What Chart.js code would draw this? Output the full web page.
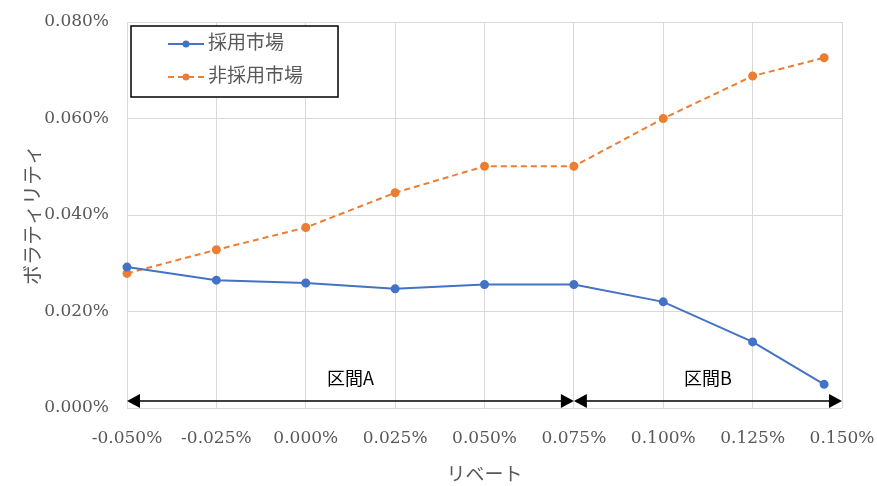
<!DOCTYPE html>
<html>
<head>
<meta charset="utf-8">
<script src="https://cdn.jsdelivr.net/npm/chart.js@4.4.1/dist/chart.umd.min.js"></script>
<style>
  html, body { margin: 0; padding: 0; background: #fff; }
  #wrap { width: 877px; height: 486px; }
</style>
</head>
<body>
<div id="wrap"><canvas id="volChart" width="877" height="486"></canvas></div>
<script>
// --- Data (rebate %, volatility %) ---
const rebates = [-0.05, -0.025, 0, 0.025, 0.05, 0.075, 0.1, 0.125, 0.145];
const adoptedVol = [0.0292, 0.0265, 0.0259, 0.0247, 0.0256, 0.0256, 0.0220, 0.0137, 0.0049];
const nonAdoptedVol = [0.0279, 0.0328, 0.0374, 0.0446, 0.0501, 0.0501, 0.0600, 0.0688, 0.0726];
const seriesNames = ["採用市場", "非採用市場"];
const xTicks = [-0.05, -0.025, 0, 0.025, 0.05, 0.075, 0.1, 0.125, 0.15];
const yTicks = [0, 0.02, 0.04, 0.06, 0.08];
const rangeNames = ["区間A", "区間B"];
const rangeBounds = [[-0.05, 0.075], [0.075, 0.15]];

const BLUE = "#4472C4";
const ORANGE = "#ED7D31";
const GREY = "#595959";
const SERIF = "'DejaVu Serif', 'Noto Sans CJK JP', serif";
const SANS = "'Noto Sans CJK JP', 'Liberation Sans', sans-serif";

const pct = v => {
  if (Math.abs(v) < 1e-9) v = 0;
  return v.toFixed(3) + "%";
};

// --- Legend box + range arrows drawn on top ---
const overlayPlugin = {
  id: "overlay",
  afterDatasetsDraw(chart) {
    const { ctx, scales: { x, y } } = chart;
    ctx.save();

    // range arrows
    const ay = y.getPixelForValue(0) - 7;
    ctx.strokeStyle = "#000";
    ctx.fillStyle = "#000";
    ctx.lineWidth = 1.5;
    rangeBounds.forEach((b, i) => {
      const x1 = x.getPixelForValue(b[0]);
      const x2 = x.getPixelForValue(b[1]);
      ctx.beginPath();
      ctx.moveTo(x1 + 4, ay);
      ctx.lineTo(x2 - 4, ay);
      ctx.stroke();
      ctx.beginPath();
      ctx.moveTo(x1, ay); ctx.lineTo(x1 + 13, ay - 7); ctx.lineTo(x1 + 13, ay + 7); ctx.closePath();
      ctx.fill();
      ctx.beginPath();
      ctx.moveTo(x2, ay); ctx.lineTo(x2 - 13, ay - 7); ctx.lineTo(x2 - 13, ay + 7); ctx.closePath();
      ctx.fill();

      ctx.font = "18px " + SANS;
      ctx.textAlign = "center";
      ctx.textBaseline = "middle";
      ctx.fillText(rangeNames[i], (x1 + x2) / 2, ay - 23);
    });

    // legend
    const lx = 131, ly = 26, lw = 207, lh = 71;
    ctx.fillStyle = "#fff";
    ctx.fillRect(lx, ly, lw, lh);
    ctx.strokeStyle = "#000";
    ctx.lineWidth = 1.5;
    ctx.strokeRect(lx, ly, lw, lh);
    const rows = [44, 77];
    chart.data.datasets.forEach((ds, i) => {
      const ry = rows[i];
      ctx.strokeStyle = ds.borderColor;
      ctx.lineWidth = 2;
      ctx.setLineDash(ds.borderDash || []);
      ctx.beginPath();
      ctx.moveTo(168, ry);
      ctx.lineTo(204, ry);
      ctx.stroke();
      ctx.setLineDash([]);
      ctx.fillStyle = ds.borderColor;
      ctx.beginPath();
      ctx.arc(186, ry, 3.5, 0, Math.PI * 2);
      ctx.fill();
      ctx.fillStyle = GREY;
      ctx.font = "19px " + SERIF;
      ctx.textAlign = "left";
      ctx.textBaseline = "middle";
      ctx.fillText(ds.label, 208, ry);
    });
    ctx.restore();
  }
};

const ctx = document.getElementById("volChart").getContext("2d");
const volChart = new Chart(ctx, {
  type: "line",
  data: {
    datasets: [{
      label: seriesNames[0],
      data: rebates.map((r, i) => ({ x: r, y: adoptedVol[i] })),
      borderColor: BLUE,
      backgroundColor: BLUE,
      borderWidth: 2,
      pointRadius: 3.5,
      pointHoverRadius: 3.5,
      tension: 0,
      clip: false
    }, {
      label: seriesNames[1],
      data: rebates.map((r, i) => ({ x: r, y: nonAdoptedVol[i] })),
      borderColor: ORANGE,
      backgroundColor: ORANGE,
      borderWidth: 2,
      borderDash: [6, 4],
      pointRadius: 3.5,
      pointHoverRadius: 3.5,
      tension: 0,
      clip: false
    }]
  },
  options: {
    responsive: false,
    animation: false,
    events: [],
    layout: { padding: { top: 22, right: 35, bottom: 0, left: 0 } },
    plugins: {
      legend: { display: false },
      tooltip: { enabled: false }
    },
    scales: {
      x: {
        type: "linear",
        min: -0.05,
        max: 0.15,
        afterBuildTicks: s => { s.ticks = xTicks.map(v => ({ value: v })); },
        afterFit: s => { s.height = 78; s.paddingLeft = 0; s.paddingRight = 0; s.paddingTop = 0; s.paddingBottom = 0; },
        grid: { color: "#D9D9D9", lineWidth: 1, drawTicks: false },
        border: { display: false },
        ticks: {
          color: GREY,
          padding: 20,
          maxRotation: 0,
          font: { family: SERIF, size: 17 },
          callback: v => pct(v)
        },
        title: {
          display: true,
          text: "リベート",
          color: GREY,
          font: { family: SERIF, size: 19, lineHeight: 1 },
          padding: { top: 0, bottom: 0 }
        }
      },
      y: {
        min: 0,
        max: 0.08,
        afterBuildTicks: s => { s.ticks = yTicks.map(v => ({ value: v })); },
        afterFit: s => { s.width = 127; s.paddingTop = 0; s.paddingBottom = 0; s.paddingLeft = 0; s.paddingRight = 0; },
        grid: { color: "#D9D9D9", lineWidth: 1, drawTicks: false },
        border: { display: false },
        ticks: {
          color: GREY,
          padding: 18,
          font: { family: SERIF, size: 17 },
          callback: v => pct(v)
        },
        title: {
          display: true,
          text: "ボラティリティ",
          color: GREY,
          font: { family: SERIF, size: 20, lineHeight: 1 },
          padding: { top: 25, bottom: 0 }
        }
      }
    }
  },
  plugins: [overlayPlugin]
});
</script>
</body>
</html>
